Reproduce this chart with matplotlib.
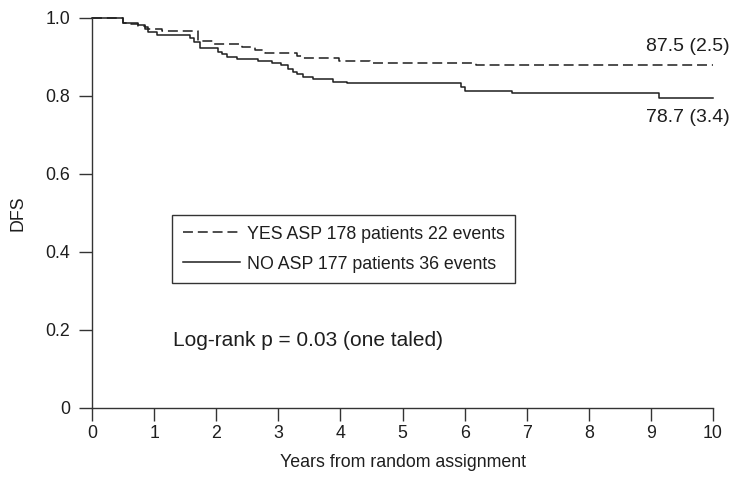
import matplotlib
matplotlib.use('Agg')
import matplotlib.pyplot as plt

# ---- data ----
yes_t = [0, 0.50, 0.62, 0.74, 0.85, 1.12, 1.71, 1.95, 2.42, 2.62, 2.79, 3.30, 3.40, 3.97, 4.48, 6.19, 10.0]
yes_s = [1.0, 0.988, 0.985, 0.980, 0.972, 0.966, 0.940, 0.934, 0.926, 0.917, 0.909, 0.903, 0.897, 0.891, 0.885, 0.879, 0.879]

no_t = [0, 0.50, 0.74, 0.85, 0.90, 1.04, 1.58, 1.65, 1.74, 2.03, 2.10, 2.17, 2.33, 2.67, 2.90, 3.05, 3.15,
        3.24, 3.30, 3.40, 3.56, 3.88, 4.10, 5.95, 6.00, 6.76, 9.13, 10.0]
no_s = [1.0, 0.988, 0.982, 0.978, 0.965, 0.956, 0.949, 0.939, 0.922, 0.914, 0.907, 0.901, 0.895, 0.890, 0.885,
        0.879, 0.870, 0.862, 0.857, 0.849, 0.843, 0.837, 0.833, 0.822, 0.814, 0.808, 0.794, 0.794]

x_ticks = list(range(0, 11))
y_ticks = [0, 0.2, 0.4, 0.6, 0.8, 1.0]
y_tick_labels = ['0', '0.2', '0.4', '0.6', '0.8', '1.0']
legend_labels = ['YES ASP 178 patients 22 events', 'NO ASP 177 patients 36 events']
end_labels = ['87.5 (2.5)', '78.7 (3.4)']
end_label_y = [0.926, 0.745]
logrank_text = 'Log-rank p = 0.03 (one taled)'
x_label = 'Years from random assignment'
y_label = 'DFS'

plt.rcParams['font.family'] = ['Liberation Sans', 'DejaVu Sans']

W, H = 734, 479
fig = plt.figure(figsize=(W / 100, H / 100), dpi=100)
ax = fig.add_axes([92 / W, 1 - 408 / H, 621 / W, 390 / H])

line_color = '#1e1e1e'
ax.step(yes_t, yes_s, where='post', color=line_color, lw=1.1,
        linestyle=(0, (6.5, 3.2)), clip_on=False, label=legend_labels[0])
ax.step(no_t, no_s, where='post', color=line_color, lw=1.1,
        clip_on=False, label=legend_labels[1])

ax.set_xlim(0, 10)
ax.set_ylim(0, 1)
ax.set_xticks(x_ticks)
ax.set_xticklabels([str(v) for v in x_ticks])
ax.set_yticks(y_ticks)
ax.set_yticklabels(y_tick_labels)

for s in ['top', 'right']:
    ax.spines[s].set_visible(False)
for s in ['left', 'bottom']:
    ax.spines[s].set_color('#333333')
    ax.spines[s].set_linewidth(1.0)

ax.tick_params(axis='both', direction='out', length=9.5, width=1.0, color='#333333',
               labelsize=12.8, labelcolor='#1e1e1e')
ax.tick_params(axis='y', pad=6)
ax.tick_params(axis='x', pad=3)

ax.set_xlabel(x_label, fontsize=12.8, color='#1e1e1e')
ax.xaxis.set_label_coords(0.5, -0.117)
ax.set_ylabel(y_label, fontsize=12.8, color='#1e1e1e')
ax.yaxis.set_label_coords(-0.105, 0.5)

leg = ax.legend(loc='upper left', bbox_to_anchor=(80 / 621, 1 - (215 - 18) / 390),
                borderaxespad=0, fontsize=12.8, handlelength=3.2, handletextpad=0.4,
                labelspacing=0.73, borderpad=0.6, fancybox=False, framealpha=1)
leg.get_frame().set_edgecolor('#333333')
leg.get_frame().set_linewidth(1.0)
for t in leg.get_texts():
    t.set_color('#1e1e1e')

ax.text(81 / 62.1, 0.174, logrank_text, fontsize=15, color='#1e1e1e', va='center', ha='left')
for lab, yv in zip(end_labels, end_label_y):
    ax.text(10.27, yv, lab, fontsize=14, color='#1e1e1e', va='center', ha='right', clip_on=False)

fig.savefig('out.png', dpi=100)
